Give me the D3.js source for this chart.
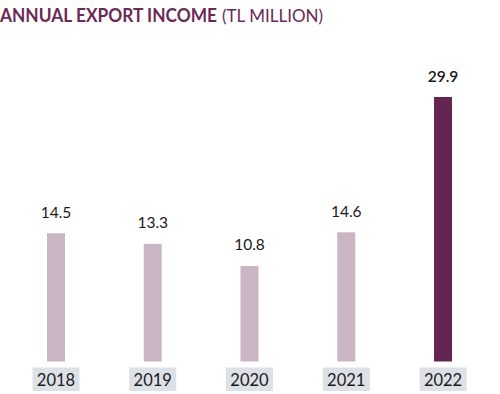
<!DOCTYPE html>
<html><head><meta charset="utf-8">
<script src="https://cdn.jsdelivr.net/npm/d3@7"></script>
<style>body{margin:0;background:#fff}svg{display:block}</style>
</head><body>
<svg id="c" width="500" height="394"></svg>
<script>
const years = ["2018","2019","2020","2021","2022"];
const values = [14.5, 13.3, 10.8, 14.6, 29.9];
const valueLabels = ["14.5","13.3","10.8","14.6","29.9"];

const svg = d3.select("#c");
const font = "Lato, 'Open Sans', sans-serif";
const x = d3.scaleBand().domain(years).range([7.6, 491.4]).paddingInner(0).paddingOuter(0);
const y = d3.scaleLinear().domain([0, 29.9]).range([361.5, 97]);
const barW = 18;

const title = svg.append("text").attr("x", 0).attr("y", 22)
  .attr("font-family", font).attr("font-size", 18).attr("fill", "#6b2a55");
title.append("tspan").attr("font-weight", 700).attr("textLength", 217).attr("lengthAdjust","spacingAndGlyphs").text("ANNUAL EXPORT INCOME");
title.append("tspan").attr("font-weight", 400).attr("dx", 5).attr("textLength", 101).attr("lengthAdjust","spacingAndGlyphs").text("(TL MILLION)");

const g = svg.append("g");
g.selectAll("rect.bar").data(years).join("rect").attr("class","bar")
  .attr("x", d => x(d) + x.bandwidth()/2 - barW/2)
  .attr("width", barW)
  .attr("y", (d,i) => y(values[i]))
  .attr("height", (d,i) => y(0) - y(values[i]))
  .attr("fill", (d,i) => i === years.length-1 ? "#642650" : "#c9b5c3");

g.selectAll("text.val").data(years).join("text").attr("class","val")
  .attr("x", d => x(d) + x.bandwidth()/2)
  .attr("y", (d,i) => y(values[i]) - 15.5)
  .attr("text-anchor","middle")
  .attr("font-family", font).attr("font-size", 15.5)
  .attr("font-weight", (d,i) => i === years.length-1 ? 600 : 400)
  .attr("fill", "#1a1a1a")
  .text((d,i) => valueLabels[i]);

g.selectAll("rect.lab").data(years).join("rect").attr("class","lab")
  .attr("x", d => x(d) + x.bandwidth()/2 - 23.5)
  .attr("y", 367.5).attr("width", 47).attr("height", 23.5)
  .attr("fill", "#dde0e7");

g.selectAll("text.yr").data(years).join("text").attr("class","yr")
  .attr("x", d => x(d) + x.bandwidth()/2)
  .attr("y", 385.5)
  .attr("text-anchor","middle")
  .attr("font-family", font).attr("font-size", 16.5)
  .attr("fill", "#1a1a1a")
  .text(d => d);
</script>
</body></html>
